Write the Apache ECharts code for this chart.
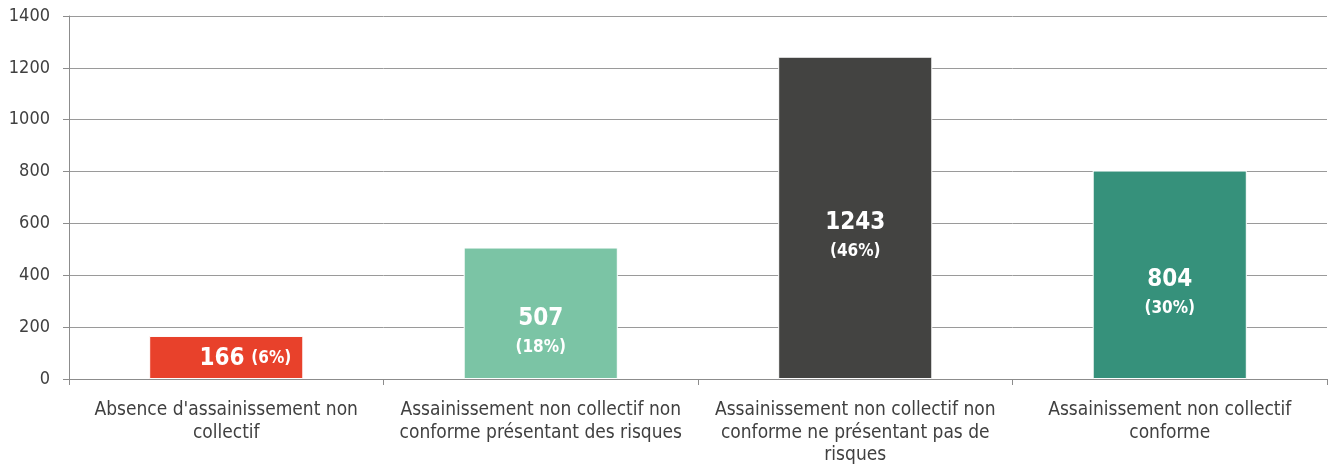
<!DOCTYPE html>
<html>
  <head>
    <meta charset="utf-8">
    <title>Assainissement non collectif</title>
    <script src="https://cdn.jsdelivr.net/npm/echarts@6/dist/echarts.min.js"></script>
    <style>
    html, body { margin: 0; padding: 0; background: #fff; }
    #chart { width: 1328px; height: 469px; }
    </style>
  </head>
  <body>
    <div id="chart"></div>
    <script type="text/javascript">
      var categories = [
        "Absence d'assainissement non\ncollectif",
        "Assainissement non collectif non\nconforme présentant des risques",
        "Assainissement non collectif non\nconforme ne présentant pas de\nrisques",
        "Assainissement non collectif\nconforme"
      ];
      var values = [166, 507, 1243, 804];
      var percents = ['6%', '18%', '46%', '30%'];
      var colors = ['#e8412b', '#7bc4a5', '#434341', '#36917b'];
      var yTicks = [0, 200, 400, 600, 800, 1000, 1200, 1400];

      var font = 'DejaVu Sans Condensed';

      var data = values.map(function (v, i) {
        var item = { value: v, itemStyle: { color: colors[i] } };
        if (i === 0) {
          // petite barre : valeur et pourcentage sur une ligne
          item.label = {
            position: 'insideRight',
            distance: 12,
            offset: [0, 1],
            formatter: '{v|' + v + '}  {p|(' + percents[i] + ')}'
          };
        }
        return item;
      });

      var chart = echarts.init(document.getElementById('chart'));
      var option = {
        animation: false,
        textStyle: { fontFamily: font },
        grid: { left: 69, right: 1, top: 16, bottom: 90, containLabel: false },
        xAxis: {
          type: 'category',
          data: categories,
          axisLine: { lineStyle: { color: '#8c8c8c', width: 1 } },
          axisTick: { show: true, length: 6, lineStyle: { color: '#8c8c8c' } },
          axisLabel: { color: '#404040', fontSize: 19, lineHeight: 22.5, margin: 20, interval: 0 }
        },
        yAxis: {
          type: 'value',
          min: yTicks[0],
          max: yTicks[yTicks.length - 1],
          interval: 200,
          axisLine: { show: true, lineStyle: { color: '#8c8c8c', width: 1 } },
          axisTick: { show: true, length: 6, lineStyle: { color: '#8c8c8c' } },
          splitLine: { lineStyle: { color: '#9a9a9a', width: 1 } },
          axisLabel: {
            color: '#404040', fontSize: 18, margin: 19,
            formatter: function (v) { return String(v); }
          }
        },
        series: [{
          type: 'bar',
          barWidth: '49%',
          data: data,
          itemStyle: { borderColor: '#ffffff', borderWidth: 1 },
          label: {
            show: true,
            position: 'inside',
            offset: [0, 17],
            color: '#ffffff',
            formatter: function (p) {
              return '{v|' + p.value + '}\n{p|(' + percents[p.dataIndex] + ')}';
            },
            rich: {
              v: { fontSize: 24, fontWeight: 'bold', color: '#fff', lineHeight: 34, fontFamily: font },
              p: { fontSize: 17, fontWeight: 'bold', color: '#fff', lineHeight: 24, fontFamily: font }
            }
          }
        }]
      };
      chart.setOption(option);
    </script>
  </body>
</html>
